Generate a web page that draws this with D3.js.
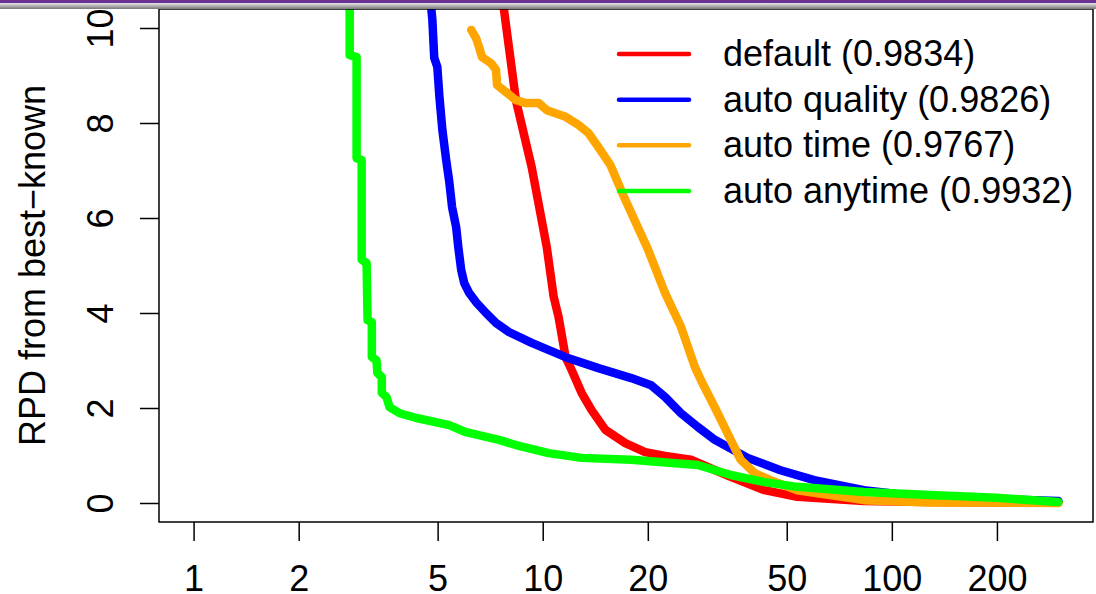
<!DOCTYPE html>
<html>
<head>
<meta charset="utf-8">
<script src="https://cdn.jsdelivr.net/npm/d3@7"></script>
<style>
  body { margin: 0; background: #fff; }
  svg { display: block; font-family: "Liberation Sans", Arial, sans-serif; }
</style>
</head>
<body>
<div id="chart"></div>
<script>
// series: x = time (log scale), y = RPD from best-known
const defaultX = [7.59, 7.74, 8.38, 9.30, 10.27, 10.75, 11.10, 11.63, 12.10, 12.92, 13.79, 15.12, 17.24, 19.65, 22.41, 26.58, 34.55, 43.18, 53.6, 83.2, 128.3, 300];
const defaultY = [11.0, 10.4, 8.48, 7.07, 5.39, 4.34, 3.92, 3.07, 2.80, 2.32, 1.96, 1.54, 1.26, 1.07, 0.99, 0.91, 0.55, 0.27, 0.13, 0.04, 0.02, 0.01];

const qualityX = [4.73, 4.80, 4.83, 4.89, 4.99, 5.06, 5.16, 5.29, 5.40, 5.50, 5.65, 5.73, 5.84, 5.96, 6.16, 6.44, 6.88, 7.35, 8.00, 9.30, 11.63, 14.44, 17.93, 20.44, 22.41, 24.89, 27.83, 31.11, 38.64, 47.97, 59.95, 83.2, 103.3, 199, 300];
const qualityY = [11.0, 10.38, 10.17, 9.37, 9.18, 8.55, 7.85, 7.22, 6.76, 6.23, 5.81, 5.39, 4.91, 4.63, 4.42, 4.23, 4.00, 3.79, 3.60, 3.37, 3.07, 2.84, 2.63, 2.48, 2.23, 1.89, 1.60, 1.33, 0.95, 0.69, 0.48, 0.27, 0.19, 0.08, 0.04];

const timeX = [6.24, 6.44, 6.57, 6.70, 7.11, 7.35, 7.40, 7.85, 8.38, 8.94, 9.74, 10.27, 11.63, 12.66, 13.52, 14.44, 15.62, 17.01, 18.77, 20.04, 22.41, 24.89, 27.29, 28.38, 31.72, 34.55, 36.90, 40.45, 44.92, 53.6, 83.2, 128.3, 300];
const timeY = [9.96, 9.79, 9.60, 9.39, 9.26, 9.12, 8.80, 8.65, 8.48, 8.42, 8.42, 8.27, 8.13, 7.96, 7.79, 7.49, 7.12, 6.48, 5.79, 5.33, 4.42, 3.71, 2.86, 2.59, 1.89, 1.33, 0.91, 0.63, 0.48, 0.27, 0.06, 0.01, 0.0];

const anytimeX = [2.80, 2.80, 2.93, 2.93, 3.03, 3.03, 3.13, 3.15, 3.24, 3.24, 3.34, 3.36, 3.46, 3.46, 3.57, 3.64, 3.89, 4.35, 5.40, 6.03, 7.49, 8.38, 10.40, 12.92, 17.93, 27.83, 34.55, 43.18, 53.6, 83.2, 128.3, 199.3, 300];
const anytimeY = [11.0, 9.43, 9.39, 7.26, 7.22, 5.12, 5.05, 3.85, 3.81, 3.07, 3.01, 2.74, 2.65, 2.32, 2.23, 2.02, 1.89, 1.79, 1.64, 1.49, 1.33, 1.22, 1.05, 0.95, 0.91, 0.80, 0.59, 0.44, 0.34, 0.23, 0.17, 0.11, 0.02];

const seriesNames = ["default (0.9834)", "auto quality (0.9826)", "auto time (0.9767)", "auto anytime (0.9932)"];
const seriesColors = ["#ff0000", "#0000ff", "#ffa500", "#00ff00"];

const xTicks = [1, 2, 5, 10, 20, 50, 100, 200];
const yTicks = [0, 2, 4, 6, 8, 10];
const xLim = [1, 300];
const yLim = [0, 10];

const width = 1096;
const height = 594;
const margin = { top: 9, right: 3, bottom: 72, left: 159 };

const svg = d3.select("#chart").append("svg")
    .attr("width", width)
    .attr("height", height);

// R style 4% padding of the axis limits
const lx = xLim.map(Math.log10);
const padX = (lx[1] - lx[0]) * 0.04;
const padY = (yLim[1] - yLim[0]) * 0.04;

const x = d3.scaleLog()
    .domain([Math.pow(10, lx[0] - padX), Math.pow(10, lx[1] + padX)])
    .range([margin.left, width - margin.right]);

const y = d3.scaleLinear()
    .domain([yLim[0] - padY, yLim[1] + padY])
    .range([height - margin.bottom, margin.top]);

svg.append("clipPath").attr("id", "plot-clip")
    .append("rect")
    .attr("x", margin.left)
    .attr("y", margin.top)
    .attr("width", width - margin.left - margin.right)
    .attr("height", height - margin.top - margin.bottom);

// x axis
const xAxis = svg.append("g")
    .attr("transform", `translate(0,${height - margin.bottom})`)
    .call(d3.axisBottom(x).tickValues(xTicks).tickFormat(d3.format("d")).tickSize(19).tickPadding(24).tickSizeOuter(0));
xAxis.select(".domain").remove();
xAxis.selectAll("line").attr("stroke", "#000").attr("stroke-width", 1.5);
xAxis.selectAll("text").attr("font-size", 36).attr("fill", "#000").attr("font-family", "Liberation Sans, Arial, sans-serif");

// y axis, labels parallel to the axis
const yAxis = svg.append("g")
    .attr("transform", `translate(${margin.left},0)`)
    .call(d3.axisLeft(y).tickValues(yTicks).tickSize(19).tickSizeOuter(0).tickFormat(d3.format("d")));
yAxis.select(".domain").remove();
yAxis.selectAll("line").attr("stroke", "#000").attr("stroke-width", 1.5);
yAxis.selectAll("text")
    .attr("font-size", 36)
    .attr("fill", "#000")
    .attr("font-family", "Liberation Sans, Arial, sans-serif")
    .attr("text-anchor", "middle")
    .attr("x", null).attr("dy", null)
    .attr("transform", "translate(-46,0) rotate(-90)");

svg.append("text")
    .attr("transform", `translate(45,${(y(yLim[0]) + y(yLim[1])) / 2}) rotate(-90)`)
    .attr("text-anchor", "middle")
    .attr("font-size", 36)
    .text("RPD from best\u2212known");

// lines
const lineGen = d3.line()
    .x(d => x(d[0]))
    .y(d => y(d[1]));

const allSeries = [
    d3.zip(defaultX, defaultY),
    d3.zip(qualityX, qualityY),
    d3.zip(timeX, timeY),
    d3.zip(anytimeX, anytimeY)
];

const lines = svg.append("g").attr("clip-path", "url(#plot-clip)");
lines.selectAll("path")
    .data(allSeries)
    .enter()
    .append("path")
    .attr("d", lineGen)
    .attr("fill", "none")
    .attr("stroke", (d, i) => seriesColors[i])
    .attr("stroke-width", 8.5)
    .attr("stroke-linejoin", "round")
    .attr("stroke-linecap", "round");

// box
svg.append("rect")
    .attr("x", margin.left)
    .attr("y", margin.top)
    .attr("width", width - margin.left - margin.right)
    .attr("height", height - margin.top - margin.bottom)
    .attr("fill", "none")
    .attr("stroke", "#000")
    .attr("stroke-width", 1.5);

// legend (no box)
const legend = svg.append("g");
const legendY = d3.scalePoint().domain(d3.range(seriesNames.length)).range([54, 191]);
seriesNames.forEach((name, i) => {
    legend.append("line")
        .attr("x1", 619).attr("x2", 689)
        .attr("y1", legendY(i)).attr("y2", legendY(i))
        .attr("stroke", seriesColors[i])
        .attr("stroke-width", 4.5)
        .attr("stroke-linecap", "round");
    legend.append("text")
        .attr("x", 723)
        .attr("y", legendY(i) + 12)
        .attr("font-size", 36)
        .text(name);
});

// slide header strip at the top
const defs = svg.append("defs");
const grad = defs.append("linearGradient").attr("id", "hdr").attr("x1", 0).attr("y1", 0).attr("x2", 0).attr("y2", 1);
grad.append("stop").attr("offset", "0%").attr("stop-color", "#e8e8e8");
grad.append("stop").attr("offset", "100%").attr("stop-color", "#777");
svg.append("rect").attr("x", 0).attr("y", 3).attr("width", width).attr("height", 6).attr("fill", "url(#hdr)");
svg.append("rect").attr("x", 0).attr("y", 0).attr("width", width).attr("height", 3).attr("fill", "#6b3192");
</script>
</body>
</html>
